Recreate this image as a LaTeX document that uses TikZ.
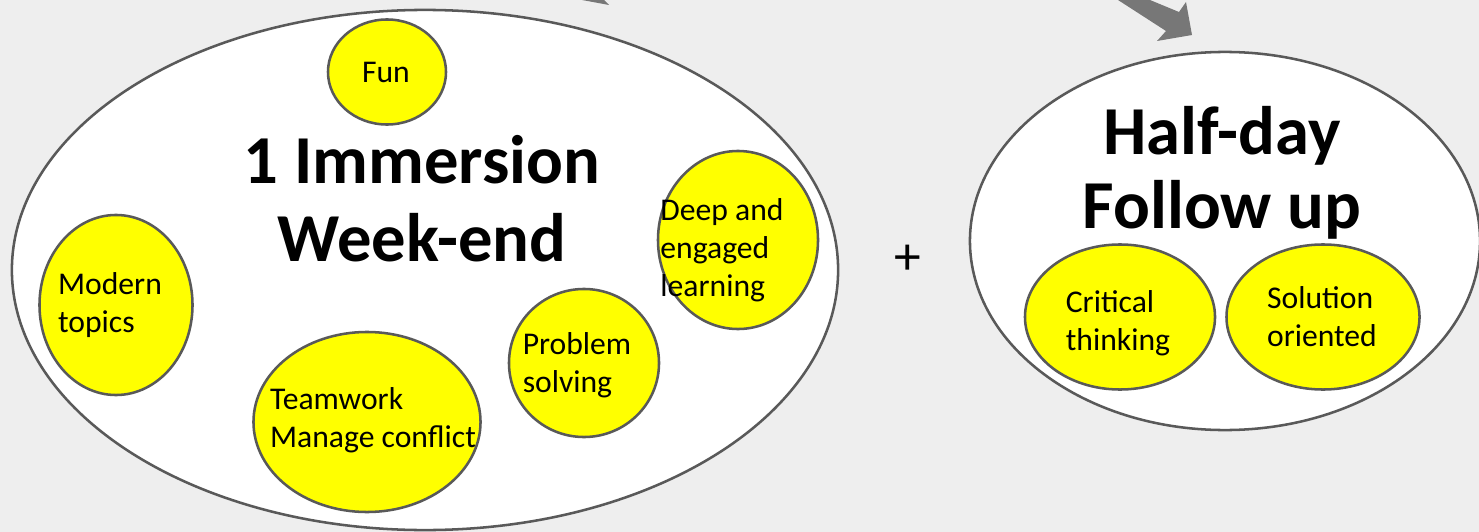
\documentclass[tikz,border=0pt]{standalone}
\usepackage{fontspec}
\setmainfont{Carlito}
\usetikzlibrary{shapes.geometric}
\definecolor{bggray}{HTML}{EEEEEE}
\definecolor{rimgray}{HTML}{595959}
\definecolor{arrowgray}{HTML}{777777}
\definecolor{blobyellow}{HTML}{FFFF00}

\tikzset{bubble/.style = {shape = ellipse,
                          draw = rimgray,
                          fill = white,
                          line width = 1.8pt,
                          inner sep = 0pt},
         blob/.style = {bubble,
                        fill = blobyellow},
         blobtext/.style = {align = left,
                            inner sep = 0pt,
                            font = \fontsize{22.5}{27}\selectfont},
         headline/.style = {align = center,
                            inner sep = 0pt,
                            font = \fontsize{48.8}{55.5}\selectfont\bfseries}}

\begin{document}
\begin{tikzpicture}[x=0.025cm, y=-0.025cm]
		\fill[bggray] (0,0) rectangle (1479,532);
		\useasboundingbox (0,0) rectangle (1479,532);
		\clip (0,0) rectangle (1479,532);
		% arrows coming in from above
		\fill[arrowgray] (582,0) -- (609,5) -- (604,0) -- cycle;
		\fill[arrowgray] (1118,0) -- (1150,0) -- (1179,12) -- (1186,2) -- (1192,35)
		                 -- (1157,41) -- (1166,31) -- cycle;
		% week-end
		\node[bubble, minimum width = 20.65cm, minimum height = 13cm] (weekend) at (425,270) {};
		\node[headline] (weekend-title) at (422,199) {1 Immersion\\Week-end};
		\node[blob, minimum width = 2.95cm, minimum height = 2.625cm] (fun) at (387,72) {};
		\node[blobtext] (fun-text) at (386,72) {Fun};
		\node[blob, minimum width = 4cm, minimum height = 4.45cm] (deep) at (738,240) {};
		\node[blobtext] (deep-text) at (722,250) {Deep and\\engaged\\learning};
		\node[blob, minimum width = 3.825cm, minimum height = 4.5cm] (modern) at (116,305) {};
		\node[blobtext] (modern-text) at (110,305) {Modern\\topics};
		\node[blob, minimum width = 3.75cm, minimum height = 3.7cm] (problem) at (584,363) {};
		\node[blobtext] (problem-text) at (577,365) {Problem\\solving};
		\node[blob, minimum width = 5.675cm, minimum height = 4.5cm] (teamwork) at (367,422) {};
		\node[blobtext] (teamwork-text) at (373,420) {Teamwork\\Manage conflict};
		% plus
		\node[blobtext, font = \fontsize{38}{40}\selectfont] (plus) at (908,260) {+};
		% follow up
		\node[bubble, minimum width = 12.75cm, minimum height = 9.45cm] (followup) at (1225,241) {};
		\node[headline, font = \fontsize{48.8}{52.5}\selectfont\bfseries] (followup-title) at (1222,173) {Half-day\\Follow up};
		\node[blob, minimum width = 4.75cm, minimum height = 3.625cm] (critical) at (1120,317) {};
		\node[blobtext] (critical-text) at (1118,323) {Critical\\thinking};
		\node[blob, minimum width = 4.825cm, minimum height = 3.625cm] (solution) at (1323,317) {};
		\node[blobtext] (solution-text) at (1322,317) {Solution\\oriented};
	\end{tikzpicture}
\end{document}
